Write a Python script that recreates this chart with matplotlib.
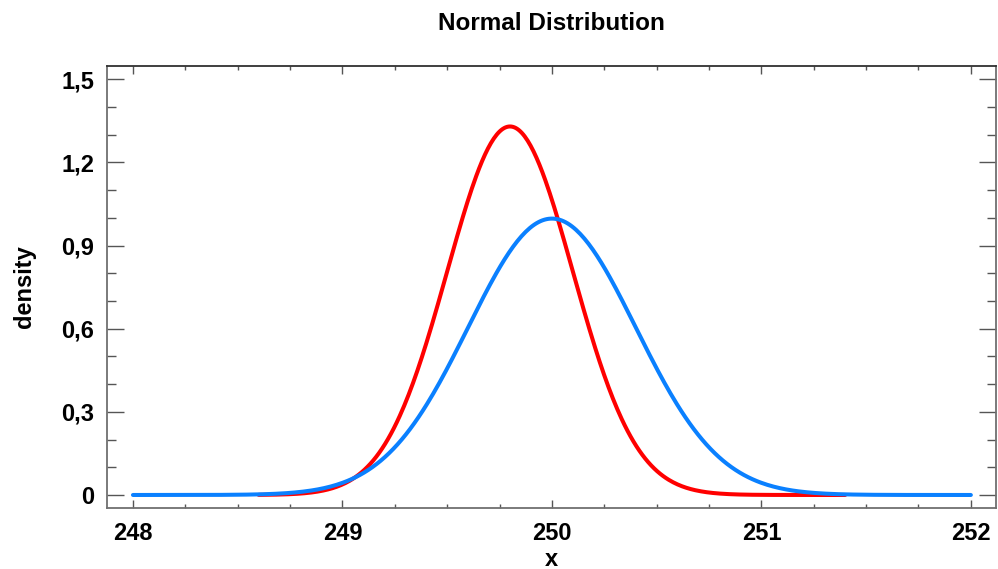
import numpy as np
import matplotlib as mpl
import matplotlib.pyplot as plt
from matplotlib.ticker import MultipleLocator, FuncFormatter

# Distribution parameters (peak height / position)
MEANS = [249.8, 250.0]
SIGMAS = [0.3, 0.4]
X_RANGES = [(248.6, 251.4), (248.0, 252.0)]
COLORS = ["#FF0000", "#0A80FF"]

X_TICKS = [248, 249, 250, 251, 252]
Y_TICKS = [0, 0.3, 0.6, 0.9, 1.2, 1.5]


def normal_pdf(x, mu, sigma):
    return np.exp(-0.5 * ((x - mu) / sigma) ** 2) / (sigma * np.sqrt(2 * np.pi))


mpl.rcParams.update({
    "font.family": ["Liberation Sans", "DejaVu Sans"],
    "font.weight": "bold",
})

fig = plt.figure(figsize=(9.98, 5.69), dpi=100)
ax = fig.add_axes([0.1072, 0.1072, 0.8908, 0.7768])

for mu, sd, (lo, hi), col in zip(MEANS, SIGMAS, X_RANGES, COLORS):
    xs = np.linspace(lo, hi, 400)
    ax.plot(xs, normal_pdf(xs, mu, sd), color=col, linewidth=2.9,
            solid_capstyle="round")

ax.set_xlim(247.876, 252.12)
ax.set_ylim(-0.047, 1.548)
ax.set_xticks(X_TICKS)
ax.set_yticks(Y_TICKS)
ax.xaxis.set_minor_locator(MultipleLocator(0.25))
ax.yaxis.set_minor_locator(MultipleLocator(0.1))
ax.yaxis.set_major_formatter(
    FuncFormatter(lambda v, _: "0" if abs(v) < 1e-9 else f"{v:.1f}".replace(".", ",")))

ax.tick_params(axis="both", which="both", direction="in", top=True, right=True,
               color="#555555", width=1.0, labelsize=17)
ax.tick_params(axis="y", which="major", length=12, pad=9)
ax.tick_params(axis="y", which="minor", length=6.5)
ax.tick_params(axis="x", which="major", length=6, pad=10)
ax.tick_params(axis="x", which="minor", length=3.2)
for lab in ax.get_xticklabels() + ax.get_yticklabels():
    lab.set_fontweight("bold")

for side in ["left", "right", "bottom", "top"]:
    ax.spines[side].set_color("#707070")
    ax.spines[side].set_linewidth(1.3)
ax.spines["top"].set_color("#303030")

ax.set_xlabel("x", fontsize=17, fontweight="bold", labelpad=2)
ax.set_ylabel("density", fontsize=17, fontweight="bold", labelpad=18)
fig.text(0.553, 0.958, "Normal Distribution", ha="center", va="center",
         fontsize=17.5, fontweight="bold")

fig.savefig("out.png", dpi=100)
